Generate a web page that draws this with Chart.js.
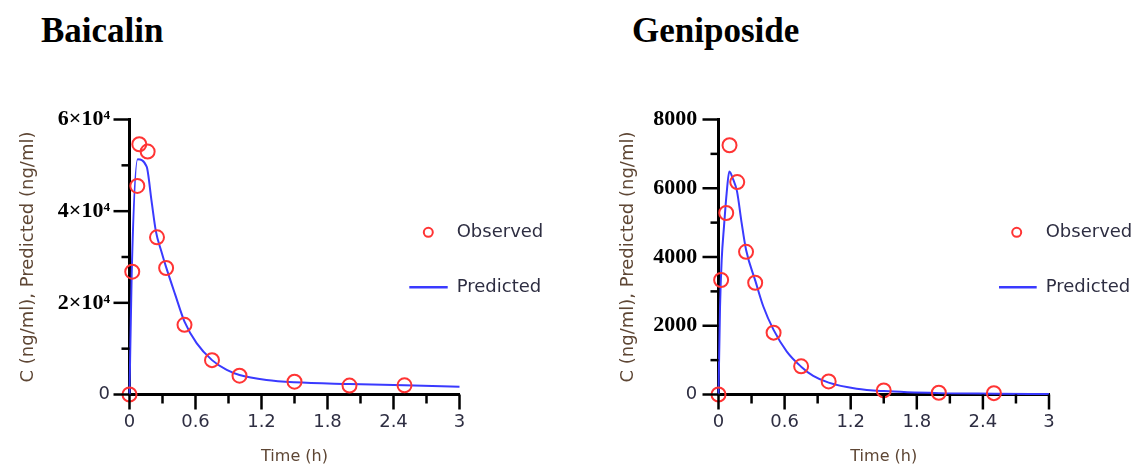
<!DOCTYPE html>
<html>
<head>
<meta charset="utf-8">
<script src="https://cdn.jsdelivr.net/npm/chart.js@4/dist/chart.umd.min.js"></script>
<style>
  html, body { margin: 0; padding: 0; background: #fff; }
  #wrap { position: relative; width: 1137px; height: 467px; overflow: hidden; background: #fff; }
  canvas { position: absolute; top: 0; }
  .ttl { position: absolute; top: 13px; font: bold 35px 'Liberation Serif', 'Times New Roman', serif; line-height: 35px; color: #000; white-space: nowrap; }
</style>
</head>
<body>
<div id="wrap">
  <div class="ttl" style="left:41px">Baicalin</div>
  <div class="ttl" style="left:632px">Geniposide</div>
  <canvas id="c1" width="568" height="467" style="left:0"></canvas>
  <canvas id="c2" width="569" height="467" style="left:568px"></canvas>
</div>
<script>
// ---------------- data ----------------
const xTickLabels = ['0', '0.6', '1.2', '1.8', '2.4', '3'];

// Baicalin
const baicalinObsTime = [0, 0.025, 0.071, 0.089, 0.165, 0.25, 0.333, 0.5, 0.75, 1, 1.5, 2, 2.5];
const baicalinObsConc = [0, 26800, 45500, 54600, 53000, 34300, 27600, 15200, 7500, 4100, 2800, 1950, 2000];
const baicalinPredTime = [0, 0.02, 0.074, 0.156, 0.2, 0.24, 0.29, 0.33, 0.414, 0.5, 0.61, 0.75, 0.884, 1.0, 1.245, 1.5, 2.0, 2.5, 3.0];
const baicalinPredConc = [0, 26400, 51300, 49700, 42300, 35600, 31200, 28000, 21900, 15900, 11200, 7500, 5350, 4250, 3150, 2650, 2280, 2000, 1700];
const baicalinYTickLabels = ['0', '2×10⁴', '4×10⁴', '6×10⁴'];

// Geniposide
const genipoObsTime = [0, 0.024, 0.07, 0.1, 0.17, 0.25, 0.333, 0.5, 0.75, 1, 1.5, 2, 2.5];
const genipoObsConc = [0, 3330, 5280, 7250, 6180, 4150, 3250, 1800, 820, 380, 120, 50, 40];
const genipoPredTime = [0, 0.014, 0.029, 0.05, 0.074, 0.098, 0.134, 0.168, 0.21, 0.25, 0.336, 0.407, 0.5, 0.62, 0.75, 0.86, 1.0, 1.254, 1.5, 2.0, 2.5, 3.0];
const genipoPredConc = [0, 2560, 3920, 4890, 5860, 6490, 6250, 5910, 4990, 4210, 3290, 2560, 1880, 1250, 810, 540, 345, 170, 100, 40, 25, 15];
const genipoYTickLabels = ['0', '2000', '4000', '6000', '8000'];

const seriesNames = ['Observed', 'Predicted'];
const yAxisTitle = 'C (ng/ml), Predicted (ng/ml)';
const xAxisTitle = 'Time (h)';

// ---------------- helpers ----------------
const pts = (xs, ys) => xs.map((x, i) => ({ x: x, y: ys[i] }));
const RED = '#ff3434';
const BLUE = '#3a3aff';
const TXT = '#2e2e42';
const TITLE_C = '#5e4634';
const SANS = '"DejaVu Sans", sans-serif';
const SERIF = '"Liberation Serif", "Times New Roman", serif';

const axisTicksPlugin = {
  id: 'axisTicks',
  afterDraw(chart) {
    const ctx = chart.ctx;
    const xs = chart.scales.x, ys = chart.scales.y;
    const a = chart.chartArea;
    ctx.save();
    ctx.strokeStyle = '#000';
    ctx.lineWidth = 2.5;
    ctx.lineCap = 'butt';
    const xv = xs.ticks.map(t => t.value);
    xv.forEach((v, i) => {
      const p = xs.getPixelForValue(v);
      ctx.beginPath(); ctx.moveTo(p, a.bottom); ctx.lineTo(p, a.bottom + 15); ctx.stroke();
      if (i < xv.length - 1) {
        const m = xs.getPixelForValue((v + xv[i + 1]) / 2);
        ctx.beginPath(); ctx.moveTo(m, a.bottom); ctx.lineTo(m, a.bottom + 9); ctx.stroke();
      }
    });
    const yv = ys.ticks.map(t => t.value);
    yv.forEach((v, i) => {
      const p = ys.getPixelForValue(v);
      ctx.beginPath(); ctx.moveTo(a.left, p); ctx.lineTo(a.left - 16, p); ctx.stroke();
      if (i < yv.length - 1) {
        const m = ys.getPixelForValue((v + yv[i + 1]) / 2);
        ctx.beginPath(); ctx.moveTo(a.left, m); ctx.lineTo(a.left - 8, m); ctx.stroke();
      }
    });
    ctx.restore();
  }
};

const legendPlugin = {
  id: 'sideLegend',
  afterDraw(chart, args, opts) {
    const ctx = chart.ctx;
    const ds = chart.data.datasets;
    ctx.save();
    ctx.font = '18px ' + SANS;
    ctx.fillStyle = TXT;
    ctx.textBaseline = 'middle';
    ctx.textAlign = 'left';
    ctx.strokeStyle = ds[1].borderColor;
    ctx.lineWidth = 2;
    ctx.beginPath(); ctx.arc(opts.markerX, opts.y1, 4.5, 0, Math.PI * 2); ctx.stroke();
    ctx.fillText(ds[1].label, opts.textX, opts.y1);
    ctx.strokeStyle = ds[0].borderColor;
    ctx.lineWidth = 2.5;
    ctx.beginPath(); ctx.moveTo(opts.lineX0, opts.y2); ctx.lineTo(opts.lineX1, opts.y2); ctx.stroke();
    ctx.fillText(ds[0].label, opts.textX, opts.y2);
    ctx.restore();
  }
};

function makeChart(canvasId, cfg) {
  const yLabels = cfg.yLabels;
  return new Chart(document.getElementById(canvasId), {
    type: 'scatter',
    data: {
      datasets: [
        {
          label: seriesNames[1],
          data: pts(cfg.predT, cfg.predC),
          showLine: true,
          borderColor: BLUE,
          backgroundColor: BLUE,
          borderWidth: 2,
          pointRadius: 0,
          cubicInterpolationMode: 'monotone',
          clip: false,
          order: 2
        },
        {
          label: seriesNames[0],
          data: pts(cfg.obsT, cfg.obsC),
          showLine: false,
          borderColor: RED,
          backgroundColor: 'rgba(0,0,0,0)',
          borderWidth: 2,
          pointRadius: 7,
          pointStyle: 'circle',
          clip: false,
          order: 1
        }
      ]
    },
    options: {
      responsive: false,
      animation: false,
      devicePixelRatio: 1,
      layout: { padding: { top: 119.5, right: cfg.padRight, bottom: 0, left: 0 } },
      plugins: {
        legend: { display: false },
        tooltip: { enabled: false },
        sideLegend: cfg.legend
      },
      scales: {
        x: {
          type: 'linear',
          min: 0, max: 3,
          grid: { display: false, drawTicks: false },
          border: { display: true, color: '#000', width: 3 },
          ticks: {
            stepSize: 0.6,
            padding: 17.5,
            color: TXT,
            font: { family: SANS, size: 18 },
            callback: (v, i) => xTickLabels[i]
          },
          title: {
            display: true, text: xAxisTitle, color: TITLE_C,
            font: { family: SANS, size: 16 },
            padding: { top: 0, bottom: 1 }
          },
          afterFit: s => { s.height = 72.5; }
        },
        y: {
          type: 'linear',
          min: 0, max: cfg.yMax,
          grid: { display: false, drawTicks: false },
          border: { display: true, color: '#000', width: 3 },
          ticks: {
            stepSize: cfg.yStep,
            padding: cfg.yPad,
            color: ctx => ctx.tick && ctx.tick.value === 0 ? TXT : '#000',
            font: ctx => (ctx.tick && ctx.tick.value === 0)
              ? { family: SANS, size: 18, weight: 'normal' }
              : { family: SERIF, size: 22, weight: 'bold' },
            callback: (v, i) => yLabels[i]
          },
          title: {
            display: true, text: yAxisTitle, color: TITLE_C,
            font: { family: SANS, size: 18 },
            padding: { top: cfg.yTitlePad, bottom: 0 }
          },
          afterFit: s => { s.width = cfg.yWidth; }
        }
      }
    },
    plugins: [axisTicksPlugin, legendPlugin]
  });
}

makeChart('c1', {
  obsT: baicalinObsTime, obsC: baicalinObsConc,
  predT: baicalinPredTime, predC: baicalinPredConc,
  yLabels: baicalinYTickLabels, yMax: 60000, yStep: 20000,
  yWidth: 129.5, padRight: 108.5, yPad: 19.5, yTitlePad: 17.2,
  legend: { markerX: 428.3, lineX0: 409.3, lineX1: 447.7, textX: 456.7, y1: 232.3, y2: 287.3 }
});

makeChart('c2', {
  obsT: genipoObsTime, obsC: genipoObsConc,
  predT: genipoPredTime, predC: genipoPredConc,
  yLabels: genipoYTickLabels, yMax: 8000, yStep: 2000,
  yWidth: 150.5, padRight: 88, yPad: 21.2, yTitlePad: 49.5,
  legend: { markerX: 448.7, lineX0: 431, lineX1: 468.7, textX: 477.7, y1: 232.3, y2: 287.3 }
});
</script>
</body>
</html>
